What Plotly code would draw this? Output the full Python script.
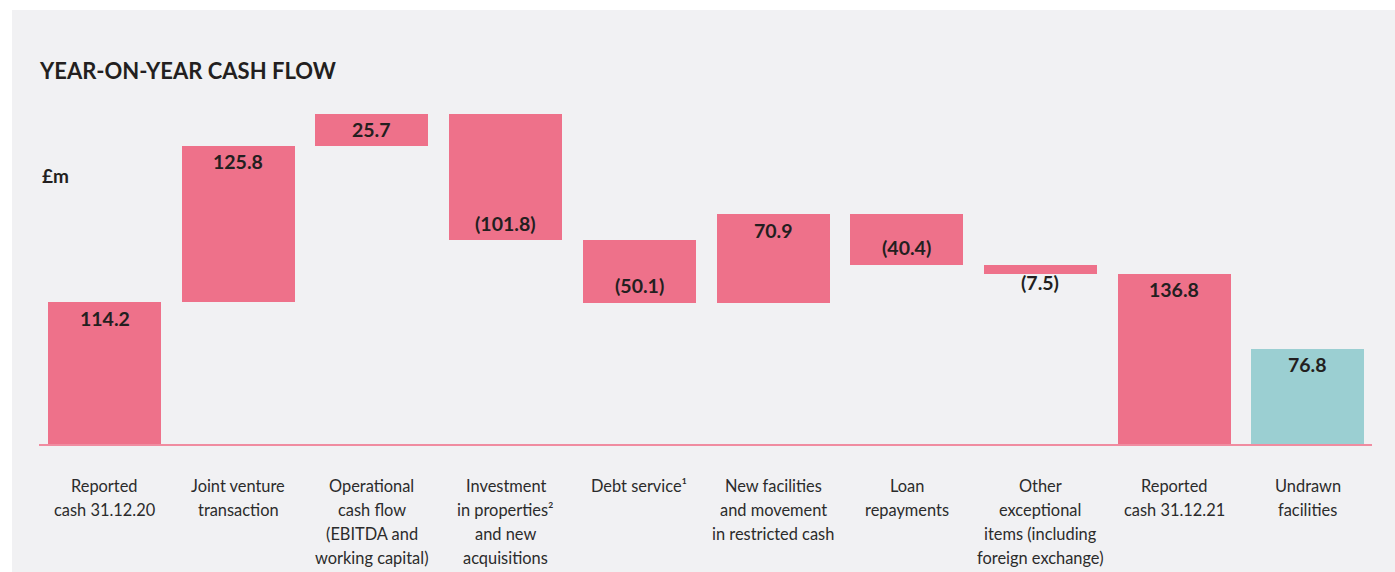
import plotly.graph_objects as go

categories = [
    "Reported<br>cash 31.12.20",
    "Joint venture<br>transaction",
    "Operational<br>cash flow<br>(EBITDA and<br>working capital)",
    "Investment<br>in properties²<br>and new<br>acquisitions",
    "Debt service¹",
    "New facilities<br>and movement<br>in restricted cash",
    "Loan<br>repayments",
    "Other<br>exceptional<br>items (including<br>foreign exchange)",
    "Reported<br>cash 31.12.21",
    "Undrawn<br>facilities",
]
values = [114.2, 125.8, 25.7, -101.8, -50.1, 70.9, -40.4, -7.5, 136.8, 76.8]
measures = ["absolute", "relative", "relative", "relative", "relative",
            "relative", "relative", "relative", "total", "absolute"]
value_labels = ["114.2", "125.8", "25.7", "(101.8)", "(50.1)", "70.9",
                "(40.4)", "(7.5)", "136.8", "76.8"]

PINK = "#ee718a"
TEAL = "#9bcfd2"
BG = "#f1f1f3"
colors = [PINK] * 9 + [TEAL]

# compute bases / heights from the waterfall logic
bases, heights = [], []
running = 0.0
for v, m in zip(values, measures):
    if m == "absolute":
        bases.append(0.0); heights.append(v)
        if len(bases) == 1:
            running = v
    elif m == "total":
        bases.append(0.0); heights.append(running)
    else:
        if v >= 0:
            bases.append(running); heights.append(v)
        else:
            bases.append(running + v); heights.append(-v)
        running += v

ids = [f"c{i}" for i in range(len(categories))]

fig = go.Figure()
fig.add_trace(go.Bar(
    x=ids, y=heights, base=bases, width=0.845,
    marker=dict(color=colors, line=dict(width=0)),
    hoverinfo="skip", showlegend=False,
))

annotations = []
# value labels
for i, (v, m, b, h, lab) in enumerate(zip(values, measures, bases, heights, value_labels)):
    top = b + h
    if m == "relative" and v < 0:
        if h < 15:
            annotations.append(dict(x=ids[i], y=b, xref="x", yref="y", text=lab,
                                    showarrow=False, yanchor="middle", yshift=-9))
        else:
            annotations.append(dict(x=ids[i], y=b, xref="x", yref="y", text=lab,
                                    showarrow=False, yanchor="middle", yshift=17))
    else:
        annotations.append(dict(x=ids[i], y=top, xref="x", yref="y", text=lab,
                                showarrow=False, yanchor="middle", yshift=-16))
for a in annotations:
    a["font"] = dict(family="Lato", size=19.5, color="#231f20", weight="bold")

# category labels, line by line
for i, cat in enumerate(categories):
    for j, line in enumerate(cat.split("<br>")):
        annotations.append(dict(
            x=ids[i], y=0, xref="x", yref="paper", text=line, showarrow=False,
            yanchor="middle", yshift=-(41 + 24 * j),
            font=dict(family="Lato", size=16.4, color="#2b2b2b"),
        ))

# title and unit
annotations.append(dict(x=-0.0015, y=0.949, xref="paper", yref="paper",
                        text="YEAR-ON-YEAR CASH FLOW", showarrow=False,
                        xanchor="left", yanchor="middle",
                        font=dict(family="Lato", size=22, color="#231f20", weight="bold")))
annotations.append(dict(x=0.0008, y=0.6827, xref="paper", yref="paper",
                        text="£m", showarrow=False, xanchor="left", yanchor="middle",
                        font=dict(family="Lato", size=19, color="#231f20", weight="bold")))

shapes = [
    # white page margin strips
    dict(type="rect", xref="paper", yref="paper", x0=-0.04, x1=1.03,
         y0=(444 - 10) / 394, y1=1.2, fillcolor="white", line=dict(width=0), layer="below"),
    dict(type="rect", xref="paper", yref="paper", x0=-0.04, x1=(12 - 39) / 1333,
         y0=-0.4, y1=1.2, fillcolor="white", line=dict(width=0), layer="below"),
]

fig.update_layout(
    width=1395, height=572,
    margin=dict(l=39, r=23, t=50, b=128),
    paper_bgcolor=BG, plot_bgcolor=BG,
    bargap=0,
    xaxis=dict(range=[-0.49, 9.48], showticklabels=False, ticks="",
               showgrid=False, zeroline=False, showline=True,
               linecolor="#f08ca0", linewidth=1.5, fixedrange=True),
    yaxis=dict(range=[0, 317], visible=False, fixedrange=True),
    annotations=annotations,
    shapes=shapes,
)

fig.write_html("out.html")
